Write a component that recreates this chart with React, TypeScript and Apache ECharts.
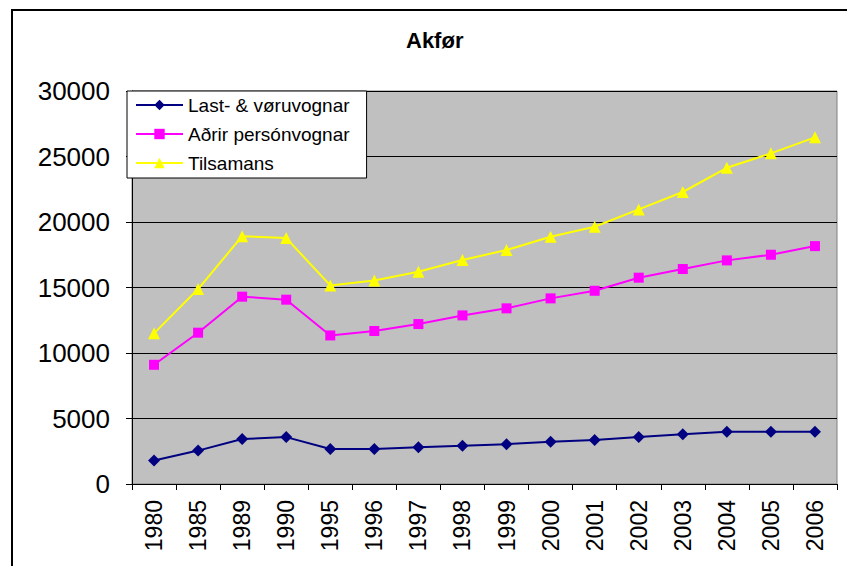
import React, { useEffect, useRef } from "react";
import * as echarts from "echarts";

const categories = ["1980","1985","1989","1990","1995","1996","1997","1998","1999","2000","2001","2002","2003","2004","2005","2006"];
const lastVoruvognar = [1800, 2550, 3430, 3580, 2670, 2670, 2800, 2920, 3040, 3230, 3360, 3590, 3790, 3990, 3990, 3990];
const adrirPersonvognar = [9100, 11550, 14300, 14070, 11340, 11680, 12210, 12870, 13410, 14170, 14750, 15750, 16410, 17070, 17500, 18160];
const tilsamans = [11500, 14880, 18920, 18770, 15160, 15540, 16200, 17100, 17860, 18870, 19640, 20960, 22290, 24140, 25240, 26460];
const yTicks = { min: 0, max: 30000, interval: 5000 };

const FONT = "'Liberation Sans', Arial, sans-serif";

export default function App() {
  const ref = useRef<HTMLDivElement>(null);
  useEffect(() => {
    if (!ref.current) return;
    const chart = echarts.init(ref.current, undefined, { renderer: "svg" });
    chart.setOption({
      animation: false,
      backgroundColor: "#ffffff",
      textStyle: { fontFamily: FONT },
      title: {
        text: "Akfør",
        left: 406,
        top: 29,
        padding: 0,
        textStyle: { fontFamily: FONT, fontSize: 22, fontWeight: "bold", color: "#000" },
      },
      graphic: [
        {
          type: "rect",
          shape: { x: 12, y: 10, width: 900, height: 700 },
          style: { fill: "none", stroke: "#000", lineWidth: 2 },
          silent: true,
        },
      ],
      legend: {
        left: 127,
        top: 91,
        orient: "vertical",
        itemWidth: 47,
        itemHeight: 13,
        itemGap: 9,
        padding: [4, 17, 5, 8],
        backgroundColor: "#ffffff",
        borderColor: "#000",
        borderWidth: 1,
        textStyle: { fontFamily: FONT, fontSize: 19, color: "#000", lineHeight: 20 },
        data: ["Last- & vøruvognar", "Aðrir persónvognar", "Tilsamans"],
      },
      grid: {
        left: 132,
        top: 91,
        right: 10,
        bottom: 82,
        show: true,
        backgroundColor: "#C0C0C0",
        borderColor: "#808080",
        borderWidth: 1,
      },
      xAxis: {
        type: "category",
        data: categories,
        boundaryGap: true,
        axisLine: { show: true, lineStyle: { color: "#000", width: 1 } },
        axisTick: { show: true, length: 6, lineStyle: { color: "#000" } },
        axisLabel: { rotate: 90, margin: 16, fontSize: 23, color: "#000", fontFamily: FONT, interval: 0 },
        splitLine: { show: false },
      },
      yAxis: {
        type: "value",
        min: yTicks.min,
        max: yTicks.max,
        interval: yTicks.interval,
        axisLine: { show: true, lineStyle: { color: "#000", width: 1 } },
        axisTick: { show: true, length: 6, lineStyle: { color: "#000" } },
        axisLabel: {
          margin: 22,
          fontSize: 26,
          color: "#000",
          fontFamily: FONT,
          formatter: (v: number) => String(v),
        },
        splitLine: { show: true, lineStyle: { color: "#000", width: 1 } },
      },
      series: [
        {
          name: "Last- & vøruvognar",
          type: "line",
          data: lastVoruvognar,
          symbol: "diamond",
          symbolSize: 12,
          itemStyle: { color: "#000080" },
          lineStyle: { color: "#000080", width: 2 },
        },
        {
          name: "Aðrir persónvognar",
          type: "line",
          data: adrirPersonvognar,
          symbol: "rect",
          symbolSize: 10,
          itemStyle: { color: "#FF00FF" },
          lineStyle: { color: "#FF00FF", width: 2 },
        },
        {
          name: "Tilsamans",
          type: "line",
          data: tilsamans,
          symbol: "triangle",
          symbolSize: 12,
          itemStyle: { color: "#FFFF00" },
          lineStyle: { color: "#FFFF00", width: 2 },
        },
      ],
    });
    return () => chart.dispose();
  }, []);
  return <div ref={ref} style={{ position: "fixed", left: 0, top: 0, width: 847, height: 566 }} />;
}
